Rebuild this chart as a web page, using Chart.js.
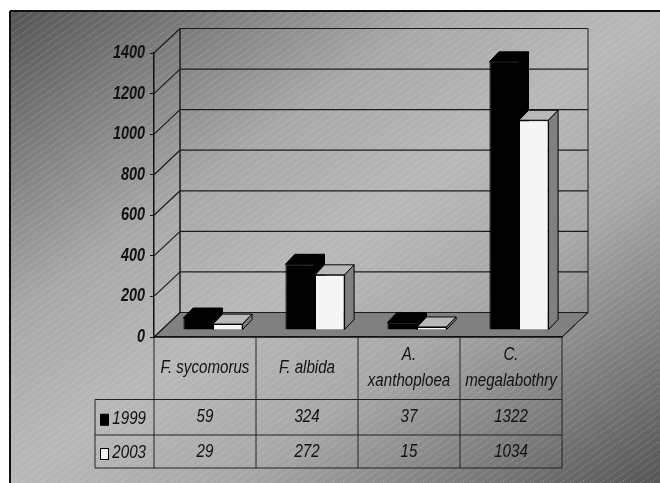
<!DOCTYPE html>
<html>
<head>
<meta charset="utf-8">
<style>
  html, body { margin: 0; padding: 0; background: #fff; }
  canvas { display: block; }
</style>
<script src="https://cdn.jsdelivr.net/npm/chart.js@4"></script>
</head>
<body>
<canvas id="treeChart" width="660" height="483"></canvas>
<script>
const species = [['F. sycomorus'], ['F. albida'], ['A.', 'xanthoploea'], ['C.', 'megalabothry']];
const years = ['1999', '2003'];
const counts1999 = [59, 324, 37, 1322];
const counts2003 = [29, 272, 15, 1034];

const FONT = '"Liberation Sans", Arial, sans-serif';
const wall = { x: 26, y: -24.5 };    // depth of the box
const barPlane = { x: 8, y: -7 };    // bars stand inside the box
const barDepth = { x: 9.5, y: -10 };
const rowLines = [399.5, 435, 468];
const legendX = 95;

function hatchPattern(ctx) {
  const tile = document.createElement('canvas');
  tile.width = 10;
  tile.height = 7;
  const t = tile.getContext('2d');
  t.strokeStyle = 'rgba(255,255,255,0.22)';
  t.lineWidth = 1;
  t.setLineDash([2, 1]);
  t.beginPath();
  t.moveTo(-10, 14); t.lineTo(10, 0);
  t.moveTo(0, 14); t.lineTo(20, 0);
  t.moveTo(-10, 7); t.lineTo(10, -7);
  t.stroke();
  return ctx.createPattern(tile, 'repeat');
}

function face(ctx, pts, fill, stroke) {
  ctx.beginPath();
  pts.forEach((p, i) => i ? ctx.lineTo(p[0], p[1]) : ctx.moveTo(p[0], p[1]));
  ctx.closePath();
  ctx.fillStyle = fill;
  ctx.fill();
  ctx.strokeStyle = stroke;
  ctx.lineWidth = 1;
  ctx.stroke();
}

function line(ctx, x1, y1, x2, y2) {
  ctx.beginPath();
  ctx.moveTo(x1, y1);
  ctx.lineTo(x2, y2);
  ctx.stroke();
}

// labels here are tall and narrow, squeeze them sideways
function narrowText(ctx, text, x, y, squeeze) {
  ctx.save();
  ctx.translate(x, y);
  ctx.scale(squeeze, 1);
  ctx.fillText(text, 0, 0);
  ctx.restore();
}

// top and side faces of one series, in the plane of its bars
function barFaces(chart, index) {
  const { ctx } = chart;
  const ds = chart.data.datasets[index];
  chart.getDatasetMeta(index).data.forEach(bar => {
    const { x, y, base, width } = bar.getProps(['x', 'y', 'base', 'width'], true);
    const l = x - width / 2, r = x + width / 2, d = barDepth;
    face(ctx, [[l, y], [r, y], [r + d.x, y + d.y], [l + d.x, y + d.y]], ds.topColor, '#000');
    face(ctx, [[r, y], [r + d.x, y + d.y], [r + d.x, base + d.y], [r, base]], ds.sideColor, '#000');
  });
}

const boxPlugin = {
  id: 'box',
  beforeDraw(chart) {
    const { ctx, width, height, chartArea: a, scales: { y } } = chart;
    ctx.save();
    // page background, dark in two opposite corners
    const g = ctx.createLinearGradient(110, -62, 560, 556);
    g.addColorStop(0, '#555555');
    g.addColorStop(0.33, '#a8a8a8');
    g.addColorStop(0.5, '#b8b8b8');
    g.addColorStop(0.67, '#a8a8a8');
    g.addColorStop(1, '#555555');
    ctx.fillStyle = g;
    ctx.fillRect(10, 11, width, height);
    ctx.fillStyle = hatchPattern(ctx);
    ctx.fillRect(10, 11, width, height);
    ctx.strokeStyle = '#111';
    ctx.lineWidth = 2;
    line(ctx, 10, height, 10, 11);
    line(ctx, 10, 11, width, 11);

    // floor
    face(ctx, [[a.left, a.bottom], [a.right, a.bottom],
      [a.right + wall.x, a.bottom + wall.y], [a.left + wall.x, a.bottom + wall.y]], '#808080', '#111');

    // side wall and back wall rules
    ctx.strokeStyle = '#1c1c1c';
    ctx.lineWidth = 1.2;
    y.ticks.forEach(tick => {
      const py = y.getPixelForValue(tick.value);
      line(ctx, a.left, py, a.left + wall.x, py + wall.y);
      line(ctx, a.left + wall.x, py + wall.y, a.right + wall.x, py + wall.y);
    });
    ctx.lineWidth = 1.5;
    line(ctx, a.left + wall.x, a.top + wall.y, a.left + wall.x, a.bottom + wall.y);
    ctx.lineWidth = 1;
    line(ctx, a.right + wall.x, a.top + wall.y, a.right + wall.x, a.bottom + wall.y);
    line(ctx, a.right, a.bottom, a.right + wall.x, a.bottom + wall.y);
    ctx.restore();
  },
  beforeDatasetsDraw(chart) {
    chart.ctx.save();
    chart.ctx.translate(barPlane.x, barPlane.y);
    barFaces(chart, 0);
  },
  afterDatasetsDraw(chart) {
    barFaces(chart, 1);
    chart.ctx.restore();
  },
  afterDraw(chart) {
    const { ctx, chartArea: a, scales: { x, y } } = chart;
    ctx.save();
    ctx.fillStyle = '#111';
    ctx.textBaseline = 'middle';

    // value axis labels
    ctx.font = 'italic bold 18px ' + FONT;
    ctx.textAlign = 'right';
    y.ticks.forEach(tick => narrowText(ctx, String(tick.value), a.left - 9, y.getPixelForValue(tick.value), 0.8));

    // data table under the floor
    ctx.strokeStyle = '#222';
    ctx.lineWidth = 1;
    rowLines.forEach(py => line(ctx, legendX, py, a.right, py));
    line(ctx, legendX, rowLines[0], legendX, rowLines[2]);
    const half = (x.getPixelForValue(1) - x.getPixelForValue(0)) / 2;
    species.forEach((s, i) => line(ctx, x.getPixelForValue(i) - half, a.bottom, x.getPixelForValue(i) - half, rowLines[2]));
    line(ctx, a.right, a.bottom, a.right, rowLines[2]);

    ctx.font = 'italic 18px ' + FONT;
    ctx.textAlign = 'center';
    const headMid = (a.bottom + rowLines[0]) / 2;
    species.forEach((s, i) => {
      s.forEach((text, n) => {
        narrowText(ctx, text, x.getPixelForValue(i), headMid + (n - (s.length - 1) / 2) * 26, 0.84);
      });
    });
    chart.data.datasets.forEach((ds, r) => {
      const mid = (rowLines[r] + rowLines[r + 1]) / 2;
      ctx.fillStyle = '#111';
      ctx.textAlign = 'center';
      ds.data.forEach((v, i) => narrowText(ctx, String(v), x.getPixelForValue(i), mid, 0.84));
      ctx.textAlign = 'right';
      narrowText(ctx, ds.label, a.left - 8, mid + 1.5, 0.84);
      ctx.fillStyle = ds.backgroundColor;
      ctx.strokeStyle = '#000';
      ctx.fillRect(100.5, mid - 3, 8, 11);
      ctx.strokeRect(100.5, mid - 3, 8, 11);
    });
    ctx.restore();
  }
};

new Chart(document.getElementById('treeChart'), {
  type: 'bar',
  plugins: [boxPlugin],
  data: {
    labels: species,
    datasets: [
      { label: years[0], data: counts1999, backgroundColor: '#000', borderColor: '#000', borderWidth: 1,
        topColor: '#000', sideColor: '#000' },
      { label: years[1], data: counts2003, backgroundColor: '#f5f5f5', borderColor: '#000', borderWidth: 1,
        topColor: '#b8b8b8', sideColor: '#808080' }
    ]
  },
  options: {
    responsive: false,
    animation: false,
    layout: { padding: { left: 94, top: 53, right: 98, bottom: 0 } },
    plugins: { legend: { display: false }, tooltip: { enabled: false } },
    datasets: { bar: { categoryPercentage: 0.58, barPercentage: 1 } },
    scales: {
      x: {
        afterFit: s => { s.height = 146; },
        ticks: { display: false },
        grid: { display: false },
        border: { color: '#111', width: 1.5 }
      },
      y: {
        min: 0,
        max: 1400,
        afterFit: s => { s.width = 60; },
        ticks: { stepSize: 200, display: false },
        grid: { drawOnChartArea: false, color: '#111', tickLength: 4 },
        border: { color: '#111', width: 1.5 }
      }
    }
  }
});
</script>
</body>
</html>
